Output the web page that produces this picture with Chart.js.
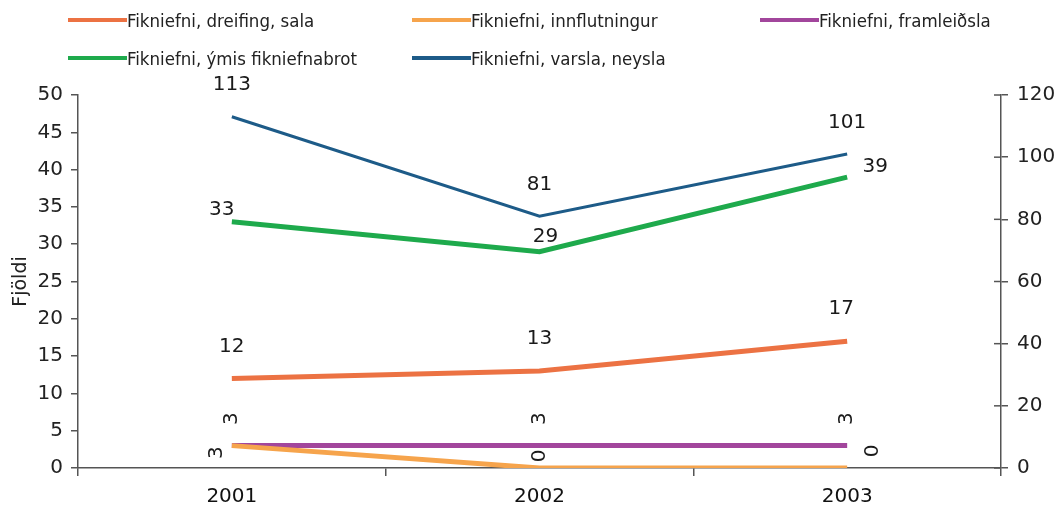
<!DOCTYPE html>
<html>
<head>
<meta charset="utf-8">
<script src="https://cdn.jsdelivr.net/npm/chart.js@4"></script>
<style>
  body { margin: 0; background: #fff; }
  #wrap { position: relative; width: 1063px; height: 514px; }
  #legend {
    position: absolute; left: 68px; top: 1px;
    display: grid; grid-template-columns: 344px 348px 300px;
    grid-auto-rows: 38px; align-items: center;
    font-family: "DejaVu Sans Condensed", "DejaVu Sans", sans-serif;
    font-size: 18.5px; color: #222;
  }
  .item { display: flex; align-items: center; white-space: nowrap; }
  .swatch { width: 59px; height: 4px; }
</style>
</head>
<body>
<div id="wrap">
  <canvas id="chart"></canvas>
  <div id="legend"></div>
</div>
<script>
// data
const years = ["2001", "2002", "2003"];
const dreifing = [12, 13, 17];
const innflutningur = [3, 0, 0];
const framleidsla = [3, 3, 3];
const ymis = [33, 29, 39];
const varsla = [113, 81, 101];   // right axis

// label placement per point: [dx, dy, rotated]
const labelPos = {
    dreifing: [[0, -32, 0], [0, -32, 0], [-6, -32, 0]],
    innflutningur: [[-15, 7, 1], [0, -12, 1], [26, -17, 1]],
    framleidsla: [[0, -27, 1], [0, -27, 1], [0, -27, 1]],
    ymis: [[-10, -12, 0], [6, -15, 0], [28, -10, 0]],
    varsla: [[0, -32, 0], [0, -31, 0], [0, -31, 0]]
};

const FONT = "DejaVu Sans";

// draw value labels
const valueLabels = {
    id: "valueLabels",
    afterDatasetsDraw(chart) {
        const ctx = chart.ctx;
        ctx.save();
        ctx.font = "20px '" + FONT + "'";
        ctx.fillStyle = "#1a1a1a";
        ctx.textAlign = "center";
        ctx.textBaseline = "middle";
        chart.data.datasets.forEach((ds, i) => {
            const meta = chart.getDatasetMeta(i);
            meta.data.forEach((pt, j) => {
                const p = labelPos[ds.key][j];
                ctx.save();
                ctx.translate(pt.x + p[0], pt.y + p[1]);
                if (p[2]) ctx.rotate(-Math.PI / 2);
                ctx.fillText(String(ds.data[j]), 0, 0);
                ctx.restore();
            });
        });
        ctx.restore();
    }
};

// right axis ticks cross the axis line
const crossTicks = {
    id: "crossTicks",
    afterDraw(chart) {
        const s = chart.scales.y2;
        const ctx = chart.ctx;
        ctx.save();
        ctx.strokeStyle = "#555";
        ctx.lineWidth = 1.5;
        s.ticks.forEach((t, i) => {
            const y = s.getPixelForTick(i);
            ctx.beginPath();
            ctx.moveTo(s.left - 7, y);
            ctx.lineTo(s.left, y);
            ctx.stroke();
        });
        ctx.restore();
    }
};

function ds(label, key, data, color, width, axis) {
    return {
        label: label, key: key, data: data,
        borderColor: color, backgroundColor: color,
        borderWidth: width, pointRadius: 0, tension: 0,
        yAxisID: axis
    };
}

const ctx = document.getElementById("chart").getContext("2d");
const chart = new Chart(ctx, {
    type: "line",
    data: {
        labels: years,
        datasets: [
            ds("Fikniefni, dreifing, sala", "dreifing", dreifing, "#EC7243", 5, "y"),
            ds("Fikniefni, innflutningur", "innflutningur", innflutningur, "#F6A44C", 5, "y"),
            ds("Fikniefni, framleiðsla", "framleidsla", framleidsla, "#A2469C", 5, "y"),
            ds("Fikniefni, ýmis fikniefnabrot", "ymis", ymis, "#1EAA4C", 5, "y"),
            ds("Fikniefni, varsla, neysla", "varsla", varsla, "#1D5B88", 3, "y2")
        ]
    },
    options: {
        responsive: true,
        maintainAspectRatio: false,
        animation: false,
        layout: { padding: { top: 95, left: 0, right: 0, bottom: 0 } },
        plugins: {
            legend: { display: false },
            tooltip: { enabled: false }
        },
        scales: {
            x: {
                offset: true,
                grid: { offset: true, drawOnChartArea: false, tickLength: 8, lineWidth: 1.5, color: "#555" },
                border: { color: "#555", width: 1.5 },
                ticks: { font: { family: FONT, size: 20 }, color: "#111", padding: 9 },
                afterFit(s) { s.height = 46; }
            },
            y: {
                position: "left",
                min: 0, max: 50,
                ticks: { stepSize: 5, font: { family: FONT, size: 20 }, color: "#222", padding: 8 },
                grid: { drawOnChartArea: false, tickLength: 7, color: "#555", lineWidth: 1.5 },
                border: { color: "#555", width: 1.5 },
                title: { display: true, text: "Fjöldi", font: { family: FONT, size: 19 }, color: "#222", padding: { top: 10, bottom: 0 } },
                afterFit(s) { s.width = 78; }
            },
            y2: {
                position: "right",
                min: 0, max: 120,
                ticks: { stepSize: 20, font: { family: FONT, size: 20 }, color: "#222", padding: 9 },
                grid: { drawOnChartArea: false, tickLength: 7, color: "#555", lineWidth: 1.5 },
                border: { color: "#555", width: 1.5 },
                afterFit(s) { s.width = 62; }
            }
        }
    },
    plugins: [valueLabels, crossTicks]
});

// legend built from the datasets
const legend = document.getElementById("legend");
chart.data.datasets.forEach(d => {
    const item = document.createElement("div");
    item.className = "item";
    const sw = document.createElement("span");
    sw.className = "swatch";
    sw.style.background = d.borderColor;
    const txt = document.createElement("span");
    txt.textContent = d.label;
    item.appendChild(sw);
    item.appendChild(txt);
    legend.appendChild(item);
});
</script>
</body>
</html>
